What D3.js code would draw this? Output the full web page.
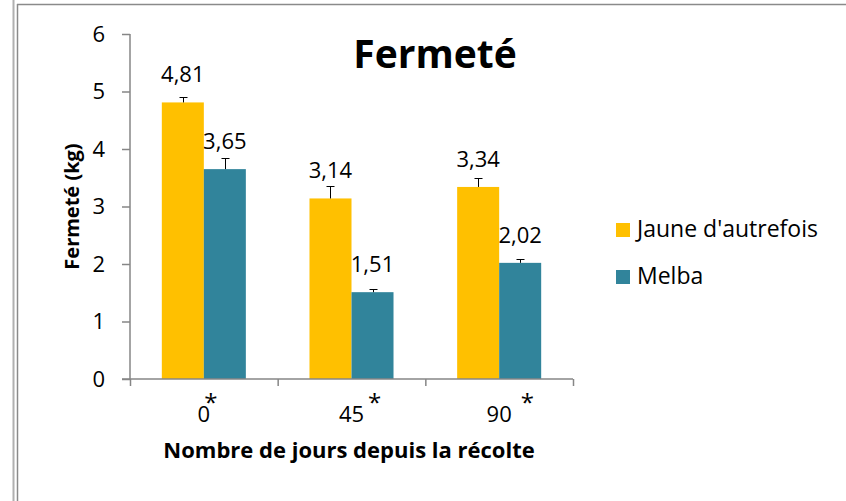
<!DOCTYPE html>
<html lang="fr">
<head>
<meta charset="utf-8">
<title>Fermeté</title>
<script src="https://cdn.jsdelivr.net/npm/d3@7"></script>
<style>
  body { margin: 0; background: #fff; }
  text { font-family: "Open Sans", sans-serif; fill: #000; }
</style>
</head>
<body>
<script>
var w = 846, h = 501;

var categories = ["0", "45", "90"];
var seriesNames = ["Jaune d'autrefois", "Melba"];
var jaune = [4.81, 3.14, 3.34];
var melba = [3.65, 1.51, 2.02];
var jauneErr = [0.10, 0.22, 0.16];
var melbaErr = [0.19, 0.06, 0.06];
var valueLabels = [["4,81", "3,14", "3,34"], ["3,65", "1,51", "2,02"]];
var yTicks = [0, 1, 2, 3, 4, 5, 6];
var colors = ["#FFC000", "#31849B"];

var plotLeft = 130, plotRight = 573, plotTop = 34, plotBottom = 379;

var svg = d3.select("body").append("svg")
  .attr("width", w).attr("height", h);

// outer frame lines
svg.append("line").attr("x1", 13.5).attr("x2", 13.5).attr("y1", 0).attr("y2", h)
  .attr("stroke", "#b0b0b0").attr("stroke-width", 2);
svg.append("line").attr("x1", 17.5).attr("x2", 17.5).attr("y1", 4).attr("y2", h)
  .attr("stroke", "#8a8a8a").attr("stroke-width", 1.5);
svg.append("line").attr("x1", 17).attr("x2", w).attr("y1", 4.5).attr("y2", 4.5)
  .attr("stroke", "#8a8a8a").attr("stroke-width", 1.5);

var x0 = d3.scaleBand().domain(categories).range([plotLeft, plotRight])
  .paddingInner(0.431).paddingOuter(0.2155);
var x1 = d3.scaleBand().domain([0, 1]).range([0, x0.bandwidth()]);
var y = d3.scaleLinear().domain([0, 6]).range([plotBottom, plotTop]);
var xb = d3.scaleLinear().domain([0, 3]).range([plotLeft, plotRight]);

var series = [jaune, melba];
var errs = [jauneErr, melbaErr];

// bars
series.forEach(function(vals, s) {
  svg.append("g").selectAll("rect")
    .data(vals)
    .enter()
    .append("rect")
    .attr("x", function(d, i) { return x0(categories[i]) + x1(s); })
    .attr("y", function(d) { return y(d); })
    .attr("width", x1.bandwidth())
    .attr("height", function(d) { return y(0) - y(d); })
    .attr("fill", colors[s]);
});

// error bars
series.forEach(function(vals, s) {
  var g = svg.append("g").attr("stroke", "#000").attr("stroke-width", 1);
  vals.forEach(function(d, i) {
    var cx = Math.round(x0(categories[i]) + x1(s) + x1.bandwidth() / 2) + 0.5;
    var yt = Math.round(y(d + errs[s][i])) + 0.5;
    g.append("line").attr("x1", cx).attr("x2", cx).attr("y1", y(d)).attr("y2", yt);
    g.append("line").attr("x1", cx - 4).attr("x2", cx + 4).attr("y1", yt).attr("y2", yt);
  });
});

// value labels
series.forEach(function(vals, s) {
  svg.append("g").selectAll("text")
    .data(vals)
    .enter()
    .append("text")
    .attr("x", function(d, i) { return x0(categories[i]) + x1(s) + x1.bandwidth() / 2; })
    .attr("y", function(d) { return y(d) - 20; })
    .attr("text-anchor", "middle")
    .attr("font-size", "22px")
    .text(function(d, i) { return valueLabels[s][i]; });
});

// y axis
var yAxis = svg.append("g")
  .attr("transform", "translate(" + plotLeft + ",0)")
  .call(d3.axisLeft(y).tickValues(yTicks).tickSize(8).tickPadding(17).tickFormat(d3.format("d")));
yAxis.selectAll("path, line").attr("stroke", "#868686").attr("stroke-width", 1.5);
yAxis.select(".domain").attr("d", "M0," + plotTop + "V" + plotBottom);
yAxis.selectAll("text").attr("font-size", "22px").attr("font-family", "'Open Sans', sans-serif").attr("fill", "#000");

// x axis (category boundaries)
var xAxis = svg.append("g")
  .attr("transform", "translate(0," + plotBottom + ")")
  .call(d3.axisBottom(xb).tickValues([0, 1, 2, 3]).tickSize(7).tickFormat(""));
xAxis.selectAll("path, line").attr("stroke", "#868686").attr("stroke-width", 1.5);
xAxis.select(".domain").attr("d", "M" + (plotLeft - 8) + ",0H" + plotRight);

// category labels with asterisk
var starDx = [-6, 4, 9];
categories.forEach(function(c, i) {
  var cx = x0(c) + x0.bandwidth() / 2;
  var t = svg.append("text")
    .attr("x", cx).attr("y", 422)
    .attr("text-anchor", "middle")
    .attr("font-size", "22px")
    .text(c);
  var tw = t.node().getComputedTextLength();
  svg.append("text")
    .attr("x", cx + tw / 2 + starDx[i]).attr("y", 411)
    .attr("font-size", "24px")
    .text("*");
});

// title
svg.append("text")
  .attr("x", 435).attr("y", 68)
  .attr("text-anchor", "middle")
  .attr("font-size", "39px").attr("font-weight", "bold")
  .text("Fermeté");

// axis titles
svg.append("text")
  .attr("transform", "translate(79," + ((plotTop + plotBottom) / 2) + ") rotate(-90)")
  .attr("text-anchor", "middle")
  .attr("font-size", "20px").attr("font-weight", "bold")
  .text("Fermeté (kg)");

svg.append("text")
  .attr("x", 349).attr("y", 458)
  .attr("text-anchor", "middle")
  .attr("font-size", "22px").attr("font-weight", "bold")
  .text("Nombre de jours depuis la récolte");

// legend
var legend = svg.append("g").selectAll("g")
  .data(seriesNames)
  .enter()
  .append("g")
  .attr("transform", function(d, i) { return "translate(616," + (223 + i * 47) + ")"; });
legend.append("rect").attr("width", 14).attr("height", 14)
  .attr("fill", function(d, i) { return colors[i]; });
legend.append("text").attr("x", 21).attr("y", 14)
  .attr("font-size", "23px")
  .text(function(d) { return d; });
</script>
</body>
</html>
